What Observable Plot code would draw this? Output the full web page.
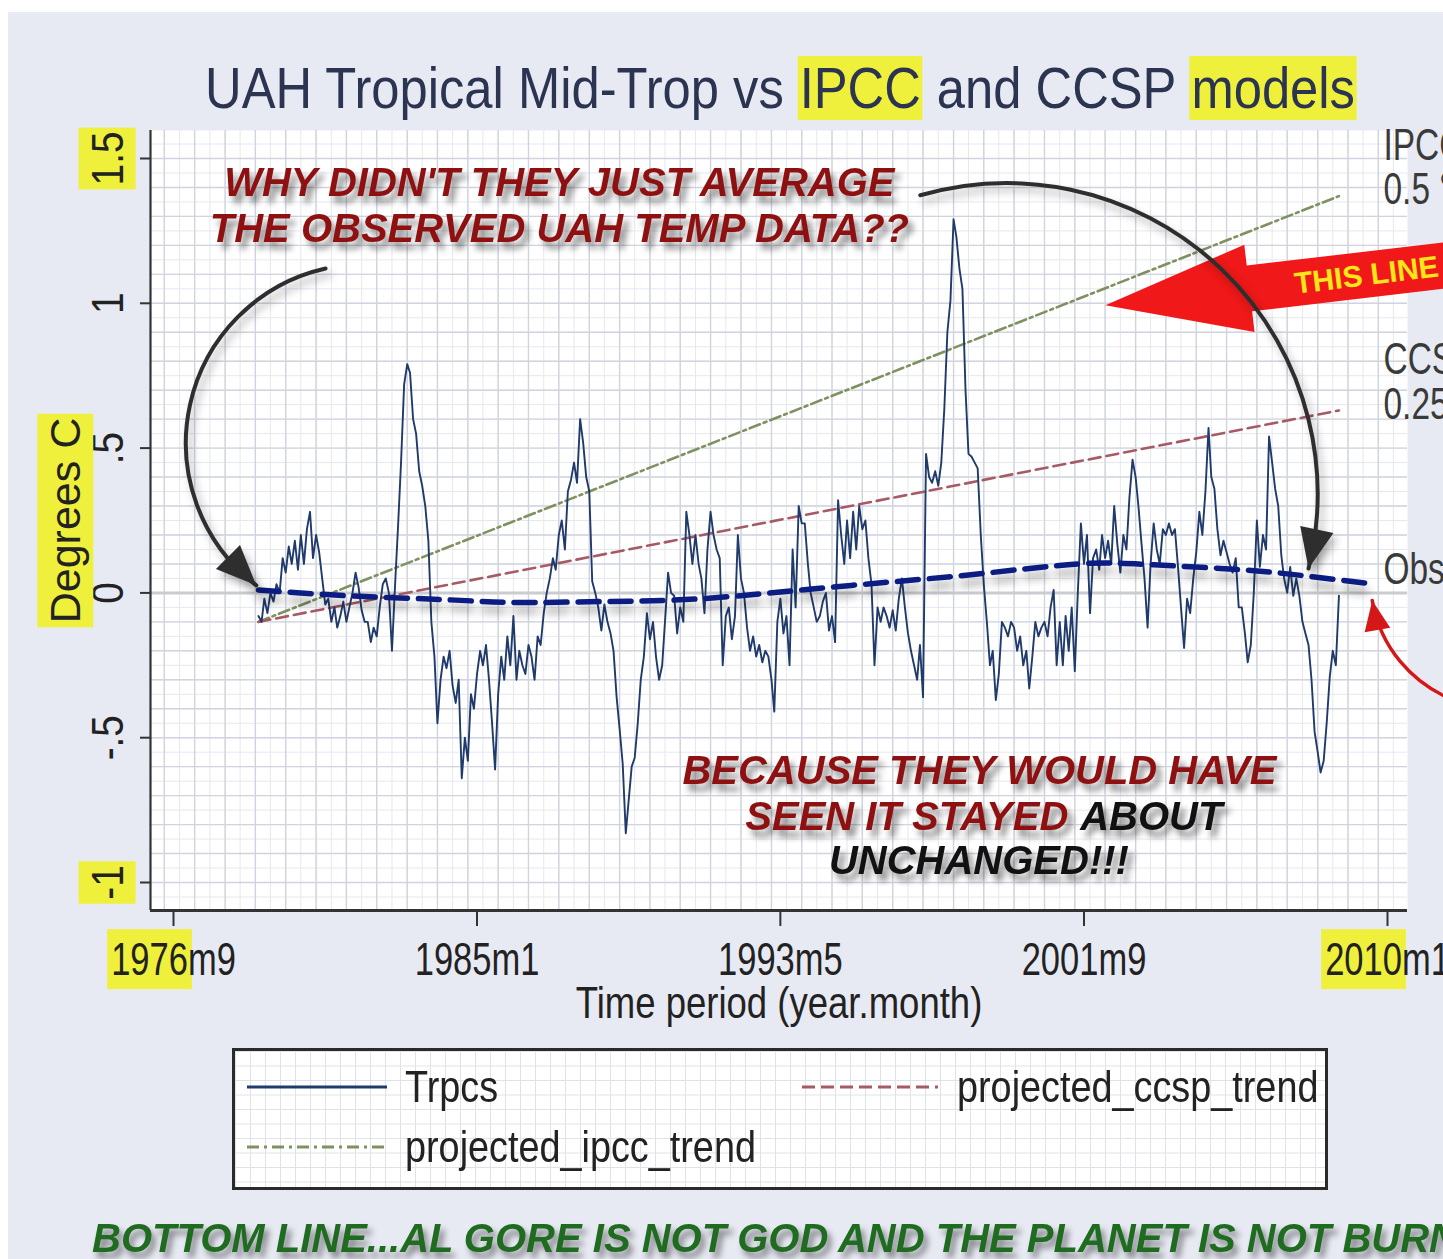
<!DOCTYPE html>
<html>
<head>
<meta charset="utf-8">
<script src="https://cdn.jsdelivr.net/npm/d3@7"></script>
<script src="https://cdn.jsdelivr.net/npm/@observablehq/plot@0.6"></script>
<style>
html,body{margin:0;padding:0;background:#fff;width:1443px;height:1259px;overflow:hidden;}
#bg{position:absolute;left:8px;top:12px;width:1435px;height:1247px;background:#e8eaf3;z-index:0;}
#page{position:relative;z-index:1;width:1443px;height:1259px;}
#title{height:100px;position:relative;}
#title .t{position:absolute;left:205px;top:58px;font-size:57px;line-height:60px;font-family:"Liberation Sans",Arial,sans-serif;color:#2b3450;white-space:nowrap;transform:scaleX(0.89);transform-origin:0 50%;}
.hl{background:#eef03c;padding:0 2px;}
#chart svg{display:block;}
#legend{position:absolute;left:232px;top:1048px;width:1090px;height:136px;border:3px solid #2a2a2a;background-color:#fff;
 background-image:linear-gradient(to right,#e0e2e9 1px,transparent 1px),linear-gradient(to bottom,#e0e2e9 1px,transparent 1px);
 background-size:15px 14.5px;}
#legend svg,#legend span{position:absolute;}
#legend span{font-family:"Liberation Sans",Arial,sans-serif;font-size:45px;line-height:50px;color:#222;white-space:nowrap;transform:scaleX(0.84);transform-origin:0 50%;}
#bottom{position:absolute;left:92px;top:1218px;font-family:"Liberation Sans",Arial,sans-serif;font-weight:bold;font-style:italic;font-size:40px;line-height:40px;color:#1f6b1f;white-space:nowrap;filter:drop-shadow(4px 6px 3px rgba(0,0,0,.45));}
g[stroke="#0b1c82"]{filter:drop-shadow(1px 8px 4px rgba(0,0,0,.35));}
g[fill="#8f1010"],g[fill="#111111"]{filter:drop-shadow(5px 7px 3px rgba(0,0,0,.45));}
g[stroke="#2e2e2e"],g[fill="#2e2e2e"]{filter:drop-shadow(4px 6px 4px rgba(0,0,0,.3));}
</style>
</head>
<body>
<div id="bg"></div>
<div id="page">
  <div id="title"><div class="t">UAH Tropical Mid-Trop vs <span class="hl">IPCC</span> and CCSP <span class="hl">models</span></div></div>
  <div id="chart"></div>
  <div id="legend">
    <svg style="left:10px;top:31px" width="144" height="10"><line x1="2" y1="5" x2="142" y2="5" stroke="#1f3a6b" stroke-width="3"/></svg>
    <span style="left:170px;top:11px">Trpcs</span>
    <svg style="left:565px;top:31px" width="140" height="10"><line x1="2" y1="5" x2="138" y2="5" stroke="#a65a64" stroke-width="3" stroke-dasharray="13,6"/></svg>
    <span style="left:722px;top:11px">projected_ccsp_trend</span>
    <svg style="left:10px;top:91px" width="144" height="10"><line x1="2" y1="5" x2="142" y2="5" stroke="#7f9160" stroke-width="3" stroke-dasharray="12,5,3,5"/></svg>
    <span style="left:170px;top:71px">projected_ipcc_trend</span>
  </div>
  <div id="bottom">BOTTOM LINE...AL GORE IS NOT GOD AND THE PLANET IS NOT BURNING</div>
</div>
<script>
// ---------- data ----------
const xTickLabels = ["1976m9", "1985m1", "1993m5", "2001m9", "2010m1"];
const yTickValues = [-1, -0.5, 0, 0.5, 1, 1.5];
const yTickLabels = ["-1", "-.5", "0", ".5", "1", "1.5"];

const trpcsStart = "1979m1";
const trpcs1979 = [-0.08, -0.1, -0.02, -0.07, 0.0, -0.03, 0.03, 0.0, 0.12, 0.07, 0.16, 0.1];
const trpcs1980 = [0.18, 0.08, 0.2, 0.1, 0.22, 0.28, 0.12, 0.2, 0.14, 0.05, -0.04, -0.02];
const trpcs1981 = [-0.1, -0.05, -0.12, -0.08, -0.03, -0.1, -0.05, 0.0, 0.07, 0.02, -0.06, -0.1];
const trpcs1982 = [-0.1, -0.17, -0.12, -0.15, -0.05, 0.03, 0.05, 0.0, -0.2, 0.02, 0.23, 0.45];
const trpcs1983 = [0.72, 0.79, 0.76, 0.6, 0.55, 0.42, 0.37, 0.3, 0.18, -0.1, -0.22, -0.45];
const trpcs1984 = [-0.3, -0.22, -0.26, -0.2, -0.32, -0.38, -0.3, -0.64, -0.5, -0.58, -0.35, -0.4];
const trpcs1985 = [-0.28, -0.2, -0.25, -0.18, -0.3, -0.45, -0.61, -0.35, -0.22, -0.3, -0.15, -0.25];
const trpcs1986 = [-0.08, -0.3, -0.2, -0.25, -0.28, -0.18, -0.22, -0.3, -0.15, -0.18, -0.07, 0.0];
const trpcs1987 = [0.05, 0.12, 0.08, 0.2, 0.25, 0.15, 0.35, 0.39, 0.45, 0.38, 0.6, 0.52];
const trpcs1988 = [0.4, 0.35, 0.04, 0.0, -0.05, -0.13, -0.04, -0.1, -0.14, -0.2, -0.36, -0.47];
const trpcs1989 = [-0.59, -0.83, -0.72, -0.6, -0.57, -0.45, -0.3, -0.22, -0.07, -0.16, -0.1, -0.22];
const trpcs1990 = [-0.3, -0.25, -0.1, 0.07, 0.0, -0.01, -0.14, -0.05, -0.1, 0.28, 0.2, 0.1];
const trpcs1991 = [0.2, 0.1, 0.05, -0.07, 0.15, 0.28, 0.2, 0.15, 0.12, -0.25, -0.08, -0.05];
const trpcs1992 = [-0.16, -0.08, 0.2, 0.05, 0.0, -0.12, -0.2, -0.15, -0.22, -0.18, -0.24, -0.2];
const trpcs1993 = [-0.22, -0.3, -0.41, -0.1, -0.02, -0.14, -0.08, -0.25, 0.15, -0.05, 0.3, 0.24];
const trpcs1994 = [0.24, 0.1, 0.0, -0.05, -0.1, -0.08, -0.03, 0.0, -0.13, -0.08, -0.17, 0.32];
const trpcs1995 = [0.2, 0.1, 0.25, 0.12, 0.28, 0.15, 0.3, 0.22, 0.25, 0.12, 0.03, -0.25];
const trpcs1996 = [-0.05, -0.1, -0.05, -0.08, -0.12, -0.06, -0.13, -0.02, 0.05, -0.05, -0.14, -0.2];
const trpcs1997 = [-0.25, -0.3, -0.18, -0.36, 0.48, 0.4, 0.38, 0.42, 0.37, 0.45, 0.64, 0.9];
const trpcs1998 = [1.01, 1.29, 1.23, 1.12, 1.05, 0.7, 0.48, 0.47, 0.45, 0.43, 0.2, 0.03];
const trpcs1999 = [-0.1, -0.25, -0.2, -0.37, -0.28, -0.1, -0.12, -0.15, -0.1, -0.12, -0.2, -0.15];
const trpcs2000 = [-0.25, -0.2, -0.33, -0.22, -0.1, -0.15, -0.12, -0.1, -0.15, -0.05, 0.01, -0.25];
const trpcs2001 = [-0.1, -0.25, -0.08, -0.2, -0.05, -0.27, 0.0, 0.24, 0.1, 0.2, -0.07, 0.12];
const trpcs2002 = [0.15, 0.08, 0.2, 0.12, 0.18, 0.1, 0.3, 0.17, 0.07, 0.2, 0.15, 0.33];
const trpcs2003 = [0.46, 0.4, 0.3, 0.17, 0.05, -0.12, 0.1, 0.24, 0.15, 0.1, 0.22, 0.2];
const trpcs2004 = [0.24, 0.2, 0.22, 0.09, -0.05, -0.19, -0.02, -0.07, 0.05, 0.14, 0.28, 0.2];
const trpcs2005 = [0.35, 0.57, 0.4, 0.36, 0.22, 0.13, 0.18, 0.14, 0.1, 0.07, 0.12, -0.05];
const trpcs2006 = [-0.05, -0.14, -0.24, -0.18, 0.0, 0.25, 0.09, 0.2, 0.15, 0.54, 0.45, 0.36];
const trpcs2007 = [0.3, 0.13, 0.05, 0.0, 0.09, -0.01, 0.05, -0.01, -0.1, -0.14, -0.18, -0.3];
const trpcs2008 = [-0.48, -0.55, -0.62, -0.58, -0.45, -0.29, -0.2, -0.25, -0.01];

const trendDates = ["1979m1", "2008m9"];
const ipccTrend = [-0.1, 1.37];
const ccspTrend = [-0.1, 0.63];

const obsDates = ["1979m1", "1981m7", "1984m4", "1986m2", "1988m6", "1991m3", "1994m10", "1998m7", "2001m7", "2003m8", "2006m2", "2008m1", "2009m9"];
const obsValues = [0.01, -0.01, -0.024, -0.033, -0.03, -0.02, 0.02, 0.062, 0.1, 0.097, 0.079, 0.055, 0.03];

const rightLabels = [
  {t: "IPCC", d: "2009-11-22", v: 1.545},
  {t: "0.5 °C/decade", d: "2009-11-22", v: 1.39},
  {t: "CCSP", d: "2009-11-22", v: 0.803},
  {t: "0.25 °C/decade", d: "2009-11-22", v: 0.648},
  {t: "Observed", d: "2009-11-22", v: 0.079}
];
const redNotesMid = [
  {t: "WHY DIDN'T THEY JUST AVERAGE", d: "1987-04-07", v: 1.414},
  {t: "THE OBSERVED UAH TEMP DATA??", d: "1987-04-07", v: 1.255},
  {t: "BECAUSE THEY WOULD HAVE", d: "1998-10-19", v: -0.617}
];
const redNotesEnd = [{t: "SEEN IT STAYED", d: "2001-03-28", v: -0.776}];
const blackNotesStart = [{t: "ABOUT", d: "2001-07-25", v: -0.776}];
const blackNotesMid = [{t: "UNCHANGED!!!", d: "1998-10-13", v: -0.928}];
const arrowA = [{d1: "1980-11-04", v1: 1.12, d2: "1978-12-10", v2: 0.026}];
const arrowB = [{d1: "1997-03-04", v1: 1.373, d2: "2007-11-01", v2: 0.084}];
const arrowC = [{d1: "2011-11-13", v1: -0.372, d2: "2009-08-01", v2: -0.026}];
const bigArrowTip = [{d: "2002-04-04", v: 0.993}];
const bigArrowText = [{t: "THIS LINE", d: "2009-06-04", v: 1.096}];

// ---------- helpers ----------
const ym = s => { const [y, m] = s.split("m").map(Number); return new Date(Date.UTC(y, m - 1, 1)); };
const pd = s => new Date(s + "T00:00:00Z");
const trpcsValues = [].concat(trpcs1979, trpcs1980, trpcs1981, trpcs1982, trpcs1983, trpcs1984, trpcs1985, trpcs1986,
  trpcs1987, trpcs1988, trpcs1989, trpcs1990, trpcs1991, trpcs1992, trpcs1993, trpcs1994, trpcs1995, trpcs1996,
  trpcs1997, trpcs1998, trpcs1999, trpcs2000, trpcs2001, trpcs2002, trpcs2003, trpcs2004, trpcs2005, trpcs2006,
  trpcs2007, trpcs2008);
const trpcs = trpcsValues.map((v, i) => ({date: d3.utcMonth.offset(ym(trpcsStart), i), value: v}));
const ipcc = trendDates.map((d, i) => ({date: ym(d), value: ipccTrend[i]}));
const ccsp = trendDates.map((d, i) => ({date: ym(d), value: ccspTrend[i]}));
const obs = obsDates.map((d, i) => ({date: ym(d), value: obsValues[i]}));
const xTickDates = xTickLabels.map(ym);
const xLabelOf = new Map(xTickDates.map((d, i) => [+d, xTickLabels[i]]));

const W = 1443, H = 940, mL = 150, mR = 36, mT = 30, mB = 130;
const xRange = [173, 1387], yRange = [782, 58];
const xs = d3.scaleUtc().domain([xTickDates[0], xTickDates[4]]).range(xRange);
const ys = d3.scaleLinear().domain([-1, 1.5]).range(yRange);
const xLeft = xs.invert(mL), xRight = xs.invert(W - mR);
const yBottom = ys.invert(H - mB), yTop = ys.invert(mT);

const gridXMinor = d3.range(0, 86).map(i => d3.utcMonth.offset(ym("1976m1"), 5 * i)).filter(d => d > xLeft && d < xRight);
const gridXMajor = gridXMinor.filter((d, i) => i % 2 === 0);
const gridYMinor = d3.range(-22, 33).map(i => i * 0.05).filter(v => v > yBottom && v < yTop);
const gridYMajor = gridYMinor.filter(v => Math.abs(Math.round(v * 20)) % 2 === 0);

function headSymbol(angleDeg, len, hw) {
  const a = angleDeg * Math.PI / 180, c = Math.cos(a), s = Math.sin(a);
  const pts = [[0, 0], [-len, hw], [-len, -hw]].map(([u, v]) => [u * c - v * s, u * s + v * c]);
  return {draw(ctx) { ctx.moveTo(...pts[0]); ctx.lineTo(...pts[1]); ctx.lineTo(...pts[2]); ctx.closePath(); }};
}
function bigArrowSymbol(angleDeg) {
  const a = angleDeg * Math.PI / 180, c = Math.cos(a), s = Math.sin(a);
  const shape = [[0, 0], [145, -44], [145, -23], [440, -23], [440, 23], [145, 23], [145, 44]];
  const pts = shape.map(([u, v]) => [u * c - v * s, u * s + v * c]);
  return {draw(ctx) { ctx.moveTo(...pts[0]); for (const p of pts.slice(1)) ctx.lineTo(...p); ctx.closePath(); }};
}

const SANS = '"Liberation Sans", Arial, sans-serif';

const chart = Plot.plot({
  width: W, height: H,
  marginLeft: mL, marginRight: mR, marginTop: mT, marginBottom: mB,
  x: {type: "utc", domain: [xTickDates[0], xTickDates[4]], range: xRange, axis: null},
  y: {domain: [-1, 1.5], range: yRange, axis: null},
  style: {fontFamily: SANS, background: "transparent", color: "#222", overflow: "hidden"},
  marks: [
    Plot.frame({fill: "#ffffff", stroke: "none"}),
    Plot.ruleX(gridXMinor, {stroke: "#e6e8ee", strokeWidth: 1}),
    Plot.ruleY(gridYMinor, {stroke: "#e6e8ee", strokeWidth: 1}),
    Plot.ruleX(gridXMajor, {stroke: "#d1d4de", strokeWidth: 1.4}),
    Plot.ruleY(gridYMajor, {stroke: "#d1d4de", strokeWidth: 1.4}),
    Plot.ruleY([0], {stroke: "#cbccd0", strokeWidth: 3}),
    Plot.line(ipcc, {x: "date", y: "value", stroke: "#7f9160", strokeWidth: 2.6, strokeDasharray: "11,4,3,4"}),
    Plot.line(ccsp, {x: "date", y: "value", stroke: "#a65a64", strokeWidth: 2.6, strokeDasharray: "12,6"}),
    Plot.line(trpcs, {x: "date", y: "value", stroke: "#1f3a6b", strokeWidth: 1.9}),
    Plot.line(obs, {x: "date", y: "value", curve: "natural", stroke: "#0b1c82", strokeWidth: 5.5, strokeDasharray: "21,11"}),
    Plot.ruleX([xLeft], {stroke: "#333", strokeWidth: 2.2}),
    Plot.ruleY([yBottom], {stroke: "#333", strokeWidth: 3}),
    Plot.axisX({ticks: xTickDates, tickFormat: d => xLabelOf.get(+d), tickSize: 16, tickPadding: 16, fontSize: 46, stroke: "#333", strokeWidth: 2, label: null}),
    Plot.axisY({ticks: yTickValues, tickFormat: () => "", tickSize: 10, stroke: "#333", strokeWidth: 2, label: null}),
    Plot.text(yTickValues, {y: d => d, text: (d, i) => yTickLabels[i], frameAnchor: "left", textAnchor: "middle", lineAnchor: "middle", dx: -42, rotate: -90, fontSize: 44, fill: "#222"}),
    Plot.text(["Degrees C"], {frameAnchor: "left", textAnchor: "middle", lineAnchor: "middle", dx: -84, rotate: -90, fontSize: 43, fill: "#222"}),
    Plot.text(["Time period (year.month)"], {frameAnchor: "bottom", textAnchor: "middle", lineAnchor: "middle", dy: 93, fontSize: 44, fill: "#222"}),
    Plot.text(rightLabels, {x: d => pd(d.d), y: "v", text: "t", textAnchor: "start", fontSize: 44, fill: "#3a3a3a"}),
    // big red arrow
    Plot.dot(bigArrowTip, {x: d => pd(d.d), y: "v", symbol: bigArrowSymbol(-6.7), r: 5, fill: "#f01818", stroke: "none"}),
    Plot.text(bigArrowText, {x: d => pd(d.d), y: "v", text: "t", rotate: -7, fontSize: 30, fontWeight: "bold", fill: "#ffe61a"}),
    // curved black arrows
    Plot.arrow(arrowA, {x1: d => pd(d.d1), y1: "v1", x2: d => pd(d.d2), y2: "v2", bend: -65, headLength: 0, stroke: "#2e2e2e", strokeWidth: 4}),
    Plot.arrow(arrowB, {x1: d => pd(d.d1), y1: "v1", x2: d => pd(d.d2), y2: "v2", bend: 60, headLength: 0, stroke: "#2e2e2e", strokeWidth: 4}),
    Plot.dot(arrowA, {x: d => pd(d.d2), y: "v2", symbol: headSymbol(45, 40, 17), r: 5, fill: "#2e2e2e", stroke: "none"}),
    Plot.dot(arrowB, {x: d => pd(d.d2), y: "v2", symbol: headSymbol(102, 40, 17), r: 5, fill: "#2e2e2e", stroke: "none"}),
    // red thin arrow
    Plot.arrow(arrowC, {x1: d => pd(d.d1), y1: "v1", x2: d => pd(d.d2), y2: "v2", bend: 30, headLength: 0, stroke: "#d41818", strokeWidth: 3.5}),
    Plot.dot(arrowC, {x: d => pd(d.d2), y: "v2", symbol: headSymbol(260, 30, 13), r: 5, fill: "#d41818", stroke: "none"}),
    // annotation texts
    Plot.text(redNotesMid, {x: d => pd(d.d), y: "v", text: "t", fontSize: 40, fontWeight: "bold", fontStyle: "italic", fill: "#8f1010"}),
    Plot.text(redNotesEnd, {x: d => pd(d.d), y: "v", text: "t", textAnchor: "end", fontSize: 40, fontWeight: "bold", fontStyle: "italic", fill: "#8f1010"}),
    Plot.text(blackNotesStart, {x: d => pd(d.d), y: "v", text: "t", textAnchor: "start", fontSize: 40, fontWeight: "bold", fontStyle: "italic", fill: "#111111"}),
    Plot.text(blackNotesMid, {x: d => pd(d.d), y: "v", text: "t", fontSize: 40, fontWeight: "bold", fontStyle: "italic", fill: "#111111"})
  ]
});
document.getElementById("chart").appendChild(chart);

// condense the Stata-style labels (the original uses a narrow face)
function squeeze(el, f) {
  const L = el.getComputedTextLength();
  el.setAttribute("textLength", L * f);
  el.setAttribute("lengthAdjust", "spacingAndGlyphs");
}
const squeezeOf = new Map();
xTickLabels.forEach(t => squeezeOf.set(t, 0.75));
yTickLabels.forEach(t => squeezeOf.set(t, 0.88));
rightLabels.forEach(d => squeezeOf.set(d.t, 0.76));
squeezeOf.set("Time period (year.month)", 0.83);

// yellow highlighter boxes behind selected labels
function highlight(el, from, to, padX, padY) {
  const n = el.getNumberOfChars();
  to = Math.min(to, n);
  let x0 = Infinity, y0 = Infinity, x1 = -Infinity, y1 = -Infinity;
  for (let i = from; i < to; i++) {
    const b = el.getExtentOfChar(i);
    x0 = Math.min(x0, b.x); y0 = Math.min(y0, b.y);
    x1 = Math.max(x1, b.x + b.width); y1 = Math.max(y1, b.y + b.height);
  }
  const r = document.createElementNS("http://www.w3.org/2000/svg", "rect");
  r.setAttribute("x", x0 - padX); r.setAttribute("y", y0 - padY);
  r.setAttribute("width", x1 - x0 + 2 * padX); r.setAttribute("height", y1 - y0 + 2 * padY);
  r.setAttribute("fill", "#eef03c"); r.setAttribute("stroke", "none");
  const tr = el.getAttribute("transform"); if (tr) r.setAttribute("transform", tr);
  el.parentNode.insertBefore(r, el);
}
const marksHL = {"1976m9": [0, 4], "2010m1": [0, 4], "1.5": [0, 3], "-1": [0, 2], "Degrees C": [0, 9]};
chart.querySelectorAll("text").forEach(el => {
  const k = el.textContent;
  if (squeezeOf.has(k)) squeeze(el, squeezeOf.get(k));
});
chart.querySelectorAll("text").forEach(el => {
  const k = el.textContent;
  if (marksHL[k]) highlight(el, marksHL[k][0], marksHL[k][1], 4, 4);
});
</script>
</body>
</html>
